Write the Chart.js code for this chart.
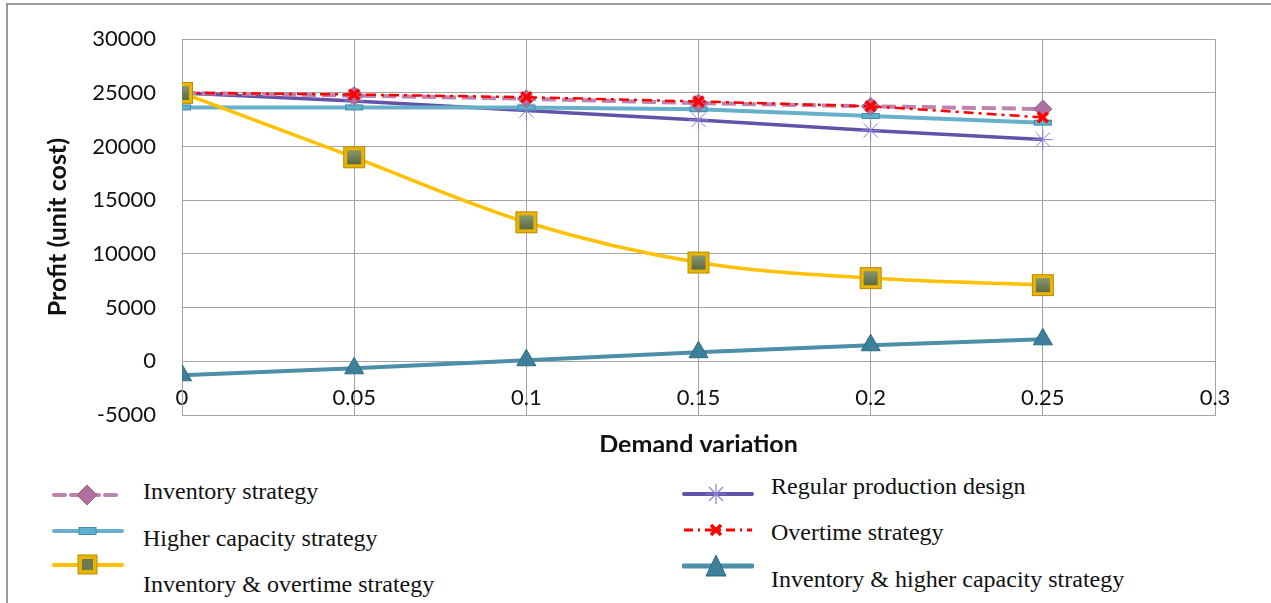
<!DOCTYPE html>
<html>
<head>
<meta charset="utf-8">
<script src="https://cdn.jsdelivr.net/npm/chart.js@4.4.1/dist/chart.umd.min.js"></script>
<style>
  body { margin: 0; background: #fff; width: 1271px; height: 603px; overflow: hidden; position: relative; }
  #frame { position: absolute; left: 6px; top: 3px; right: -5px; bottom: -5px; border-top: 2px solid #9a9a9a; border-left: 2px solid #9a9a9a; }
  #chart { position: absolute; left: 0; top: 0; }
  #legend { position: absolute; left: 8px; top: 452px; width: 1263px; height: 151px; background: #fff;
            font-family: "Liberation Serif", "Times New Roman", serif; font-size: 24px; color: #111; }
  .item-text { position: absolute; white-space: nowrap; line-height: 1; }
  .item-sample { position: absolute; }
</style>
</head>
<body>
<div id="frame"></div>
<canvas id="chart" width="1271" height="603"></canvas>
<div id="legend"></div>

<script>
// datos
const demandLevels = [0, 0.05, 0.1, 0.15, 0.2, 0.25];
const xTickValues = [0, 0.05, 0.1, 0.15, 0.2, 0.25, 0.3];
const xTickLabels = ['0', '0.05', '0.1', '0.15', '0.2', '0.25', '0.3'];

const inventoryStrategy = [25000, 24750, 24450, 24050, 23750, 23500];
const regularProduction = [25000, 24250, 23350, 22480, 21500, 20650];
const higherCapacity = [23650, 23650, 23650, 23480, 22850, 22230];
const overtimeStrategy = [25000, 24850, 24600, 24200, 23750, 22720];
const inventoryOvertime = [25000, 19000, 12950, 9200, 7750, 7100];
const inventoryHigherCapacity = [-1300, -650, 100, 850, 1500, 2050];

const seriesNames = [
  'Inventory strategy',
  'Higher capacity strategy',
  'Inventory & overtime strategy',
  'Regular production design',
  'Overtime strategy',
  'Inventory & higher capacity strategy'
];

// marcadores hechos a mano en un canvas pequeño
function flatRect() {
  const c = document.createElement('canvas');
  c.width = 20; c.height = 8;
  const g = c.getContext('2d');
  g.fillStyle = '#5fb0cf';
  g.fillRect(1, 1, 18, 6);
  g.strokeStyle = '#3f8aa8';
  g.lineWidth = 1;
  g.strokeRect(1.5, 1.5, 17, 5);
  return c;
}

function yellowSquare() {
  const c = document.createElement('canvas');
  c.width = 24; c.height = 24;
  const g = c.getContext('2d');
  g.fillStyle = '#e8b400';
  g.fillRect(1, 1, 22, 22);
  g.strokeStyle = '#b88c00';
  g.lineWidth = 1;
  g.strokeRect(1.5, 1.5, 21, 21);
  const grad = g.createLinearGradient(0, 5, 0, 19);
  grad.addColorStop(0, '#8a9870');
  grad.addColorStop(1, '#5c6a45');
  g.fillStyle = grad;
  g.fillRect(5, 5, 14, 14);
  return c;
}

const pts = (arr) => arr.map((v, i) => ({ x: demandLevels[i], y: v }));

const datasets = [
  {
    label: seriesNames[0],
    data: pts(inventoryStrategy),
    borderColor: '#bf82ae',
    borderWidth: 4,
    borderDash: [14, 6],
    pointStyle: 'rectRot',
    pointRadius: 9,
    pointBackgroundColor: '#b0709f',
    pointBorderColor: '#9d5f8c',
    pointBorderWidth: 1,
    order: 2
  },
  {
    label: seriesNames[1],
    data: pts(higherCapacity),
    borderColor: '#66b0cb',
    borderWidth: 4,
    pointStyle: flatRect(),
    order: 3
  },
  {
    label: seriesNames[2],
    data: pts(inventoryOvertime),
    borderColor: '#ffc000',
    borderWidth: 3.5,
    tension: 0.35,
    pointStyle: yellowSquare(),
    order: 0
  },
  {
    label: seriesNames[3],
    data: pts(regularProduction),
    borderColor: '#6452a8',
    borderWidth: 3.5,
    pointStyle: 'star',
    pointRadius: 10,
    pointBorderColor: '#8b80d2',
    pointBorderWidth: 1,
    order: 4
  },
  {
    label: seriesNames[4],
    data: pts(overtimeStrategy),
    borderColor: '#ff0000',
    borderWidth: 2.5,
    borderDash: [10, 5, 3, 5],
    pointStyle: 'crossRot',
    pointRadius: 7,
    pointBorderColor: '#ff0000',
    pointBorderWidth: 3.5,
    order: 1
  },
  {
    label: seriesNames[5],
    data: pts(inventoryHigherCapacity),
    borderColor: '#4d8fa8',
    borderWidth: 4,
    pointStyle: 'triangle',
    pointRadius: 11,
    pointBackgroundColor: '#3c809b',
    pointBorderColor: '#2f6a82',
    pointBorderWidth: 1,
    order: 5
  }
];

const tickFont = { family: 'Lato, "Open Sans", sans-serif', size: 22 };
const titleFont = { family: 'Lato, "Open Sans", sans-serif', size: 25, weight: 'bold' };
const gridColor = '#a3a3a3';

new Chart(document.getElementById('chart'), {
  type: 'line',
  data: { datasets: datasets },
  options: {
    responsive: false,
    animation: false,
    devicePixelRatio: 1,
    layout: { padding: { left: 8, top: 38, right: 56, bottom: 143 } },
    plugins: { legend: { display: false }, tooltip: { enabled: false } },
    scales: {
      x: {
        type: 'linear',
        min: 0,
        max: 0.3,
        afterBuildTicks: (scale) => { scale.ticks = xTickValues.map(v => ({ value: v })); },
        afterFit: (scale) => { scale.height = 45; },
        ticks: {
          // mirror para que las etiquetas queden dentro del area, encima del borde inferior
          mirror: true,
          padding: 4,
          color: '#111',
          font: tickFont,
          maxRotation: 0,
          autoSkip: false,
          callback: (v, i) => xTickLabels[i]
        },
        grid: { color: gridColor, drawTicks: false },
        border: { color: gridColor },
        title: { display: true, text: 'Demand variation', color: '#111', font: titleFont, padding: { top: 0, bottom: 0 } }
      },
      y: {
        min: -5000,
        max: 30000,
        afterFit: (scale) => { scale.width = 174; },
        ticks: { stepSize: 5000, padding: 26, color: '#111', font: tickFont, callback: (v) => String(v) },
        grid: { color: gridColor, drawTicks: false },
        border: { color: gridColor },
        title: { display: true, text: 'Profit (unit cost)', color: '#111', font: titleFont, padding: { top: 35, bottom: 0 } }
      }
    }
  }
});

// leyenda en html, dos columnas como en el original
const legendItems = [
  { name: seriesNames[0], sx: 44, sy: 43, tx: 135, ty: 27, kind: 'pink' },
  { name: seriesNames[1], sx: 44, sy: 79, tx: 135, ty: 74, kind: 'blue' },
  { name: seriesNames[2], sx: 44, sy: 113, tx: 135, ty: 120, kind: 'yellow' },
  { name: seriesNames[3], sx: 674, sy: 42, tx: 763, ty: 22, kind: 'purple' },
  { name: seriesNames[4], sx: 674, sy: 78, tx: 763, ty: 68, kind: 'red' },
  { name: seriesNames[5], sx: 674, sy: 114, tx: 763, ty: 115, kind: 'teal' }
];

function sampleSvg(kind) {
  const w = 72, h = 24;
  let line = '', mark = '';
  if (kind === 'pink') {
    line = '<line x1="2" y1="12" x2="70" y2="12" stroke="#bf82ae" stroke-width="4" stroke-dasharray="11,6" stroke-linecap="round"/>';
    mark = '<polygon points="35,2 45,12 35,22 25,12" fill="#b0709f" stroke="#9d5f8c"/>';
  } else if (kind === 'blue') {
    line = '<line x1="2" y1="12" x2="70" y2="12" stroke="#66b0cb" stroke-width="4" stroke-linecap="round"/>';
    mark = '<rect x="27" y="8.5" width="17" height="7" fill="#5fb0cf" stroke="#3f8aa8"/>';
  } else if (kind === 'yellow') {
    line = '<line x1="2" y1="12" x2="70" y2="12" stroke="#ffc000" stroke-width="4" stroke-linecap="round"/>';
    mark = '<rect x="26" y="2" width="19" height="19" fill="#e8b400" stroke="#b88c00"/><rect x="30" y="6" width="11" height="11" fill="#6b7a52"/>';
  } else if (kind === 'purple') {
    line = '<line x1="2" y1="12" x2="70" y2="12" stroke="#6452a8" stroke-width="4" stroke-linecap="round"/>';
    mark = '<path d="M34 2V22M24 12H44M27 5L41 19M41 5L27 19" stroke="#8b80d2" stroke-width="1.2"/>';
  } else if (kind === 'red') {
    line = '<line x1="2" y1="12" x2="70" y2="12" stroke="#ff0000" stroke-width="3" stroke-dasharray="9,5,2,5"/>';
    mark = '<path d="M29 7L39 17M39 7L29 17" stroke="#ff0000" stroke-width="3.5"/>';
  } else {
    line = '<line x1="2" y1="12" x2="70" y2="12" stroke="#4d8fa8" stroke-width="5" stroke-linecap="round"/>';
    mark = '<polygon points="34,1 44,22 24,22" fill="#3c809b" stroke="#2f6a82"/>';
  }
  return '<svg width="' + w + '" height="' + h + '" xmlns="http://www.w3.org/2000/svg">' + line + mark + '</svg>';
}

const legendEl = document.getElementById('legend');
legendItems.forEach(it => {
  const s = document.createElement('div');
  s.className = 'item-sample';
  s.style.left = it.sx + 'px';
  s.style.top = (it.sy - 12) + 'px';
  s.innerHTML = sampleSvg(it.kind);
  legendEl.appendChild(s);

  const t = document.createElement('div');
  t.className = 'item-text';
  t.style.left = it.tx + 'px';
  t.style.top = it.ty + 'px';
  t.textContent = it.name;
  legendEl.appendChild(t);
});
</script>
</body>
</html>
